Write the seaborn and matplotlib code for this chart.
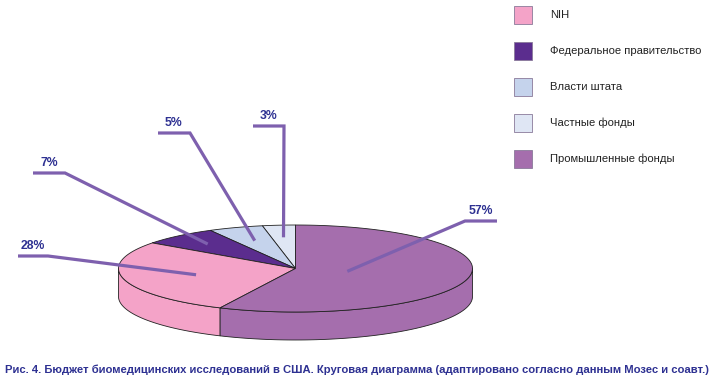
import numpy as np
import matplotlib
matplotlib.use("Agg")
import matplotlib.pyplot as plt
from matplotlib.patches import Polygon, Rectangle
import seaborn as sns

# ---- data ----
categories = ["NIH", "Федеральное правительство", "Власти штата", "Частные фонды", "Промышленные фонды"]
shares = [28, 7, 5, 3, 57]
pct_labels = ["28%", "7%", "5%", "3%", "57%"]
caption = "Рис. 4. Бюджет биомедицинских исследований в США. Круговая диаграмма (адаптировано согласно данным Мозес и соавт.)"

# ---- style ----
sns.set_theme(style="white")
palette = sns.color_palette(["#F4A3C8", "#5B2D8E", "#C5D3EC", "#DFE6F4", "#A56EAD"])
plt.rcParams["font.family"] = ["Liberation Sans", "DejaVu Sans"]

line_col = "#7E60AE"
text_col = "#2E3192"

fig = plt.figure(figsize=(7.25, 3.81), dpi=100)
ax = fig.add_axes([0, 0, 1, 1])
ax.set_xlim(0, 725)
ax.set_ylim(381, 0)
ax.axis("off")

# pie geometry (pixel space)
cx, cy, a, b, depth = 295.5, 268.5, 177, 43.5, 28

# drawing order counter-clockwise from top: Частные, Власти, Федеральное, NIH, Промышленные
order = [3, 2, 1, 0, 4]
total = float(sum(shares))
start = 90.0
wedges = {}
for i in order:
    span = shares[i] / total * 360.0
    wedges[i] = (start, start + span)
    start += span

def pt(theta_deg, r=1.0, dz=0.0):
    t = np.radians(theta_deg)
    return cx + r * a * np.cos(t), cy - r * b * np.sin(t) + dz

# sides (front half)
for i, (t0, t1) in wedges.items():
    for k0, k1 in [(180, 360), (540, 720)]:
        s0, s1 = max(t0, k0), min(t1, k1)
        if s1 > s0:
            ths = np.linspace(s0, s1, 120)
            top = [pt(t) for t in ths]
            bot = [pt(t, dz=depth) for t in ths[::-1]]
            ax.add_patch(Polygon(top + bot, closed=True, facecolor=palette[i],
                                 edgecolor="#222222", linewidth=0.6, zorder=2))

# tops
for i, (t0, t1) in wedges.items():
    ths = np.linspace(t0, t1, 200)
    poly = [(cx, cy)] + [pt(t) for t in ths]
    ax.add_patch(Polygon(poly, closed=True, facecolor=palette[i],
                         edgecolor="#222222", linewidth=0.6, zorder=3))

# leader lines and labels (layout)
leader_r = {0: 0.58, 1: 0.75, 2: 0.68, 3: 0.72, 4: 0.30}
shelf = {0: (18, 48, 256), 1: (33, 65, 173), 2: (158, 190, 133), 3: (253, 284, 126), 4: (497, 465, 221)}
for i, (t0, t1) in wedges.items():
    mid = (t0 + t1) / 2
    ex, ey = pt(mid, r=leader_r[i])
    x0, x1, y = shelf[i]
    ax.plot([x0, x1, ex], [y, y, ey], color=line_col, lw=2.3, solid_capstyle="butt",
            solid_joinstyle="miter", zorder=5)
    tx = (x0 + x1) / 2
    ax.text(tx, y - 4, pct_labels[i], ha="center", va="bottom", fontsize=8.8,
            fontweight="bold", color=text_col, zorder=6)

# legend
for i in range(len(categories)):
    y0 = 6 + 36 * i
    ax.add_patch(Rectangle((514, y0), 18, 18, facecolor=palette[i],
                           edgecolor="#8a7a9a", linewidth=0.6, zorder=4))
    ax.text(550, y0 + 9, categories[i], ha="left", va="center", fontsize=8.1,
            color="#222222")

# caption
ax.text(5, 370, caption, ha="left", va="center", fontsize=8.15, fontweight="bold",
        color=text_col)

fig.savefig("out.png", dpi=100)
